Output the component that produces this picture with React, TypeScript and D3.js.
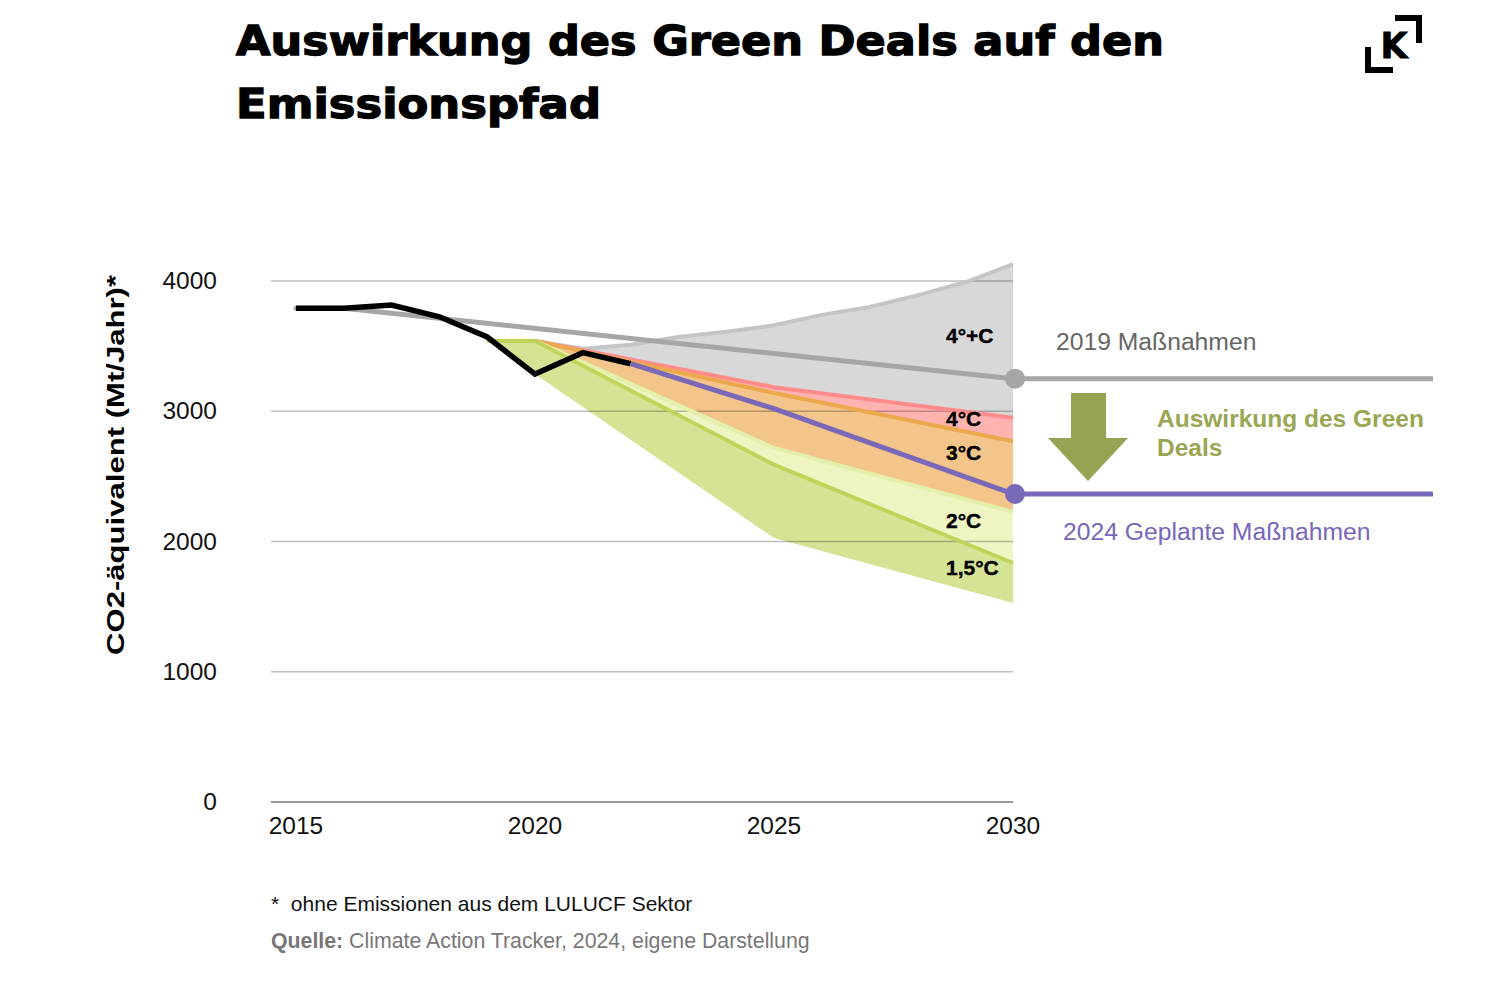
import React from "react";
import * as d3 from "d3";

const histYears = [2015, 2016, 2017, 2018, 2019, 2020, 2021, 2022];
const histValues = [3790, 3790, 3815, 3725, 3570, 3285, 3450, 3365];

const policy2019Years = [2015, 2016, 2030];
const policy2019Values = [3790, 3790, 3250];

const plannedYears = [2022, 2025, 2030];
const plannedValues = [3365, 3020, 2365];

const ceilingYears = [2020, 2021, 2022, 2023, 2024, 2025, 2026, 2027, 2028, 2029, 2030];
const ceilingValues = [3540, 3480, 3510, 3570, 3610, 3660, 3740, 3800, 3890, 3990, 4130];

const bandYears = [2020, 2025, 2030];
const deg4Values = [3540, 3185, 2950];
const deg3Values = [3540, 3140, 2770];
const deg2Values = [3540, 2718, 2227];

const green15Years = [2019, 2020, 2025, 2030];
const deg15Values = [3540, 3540, 2590, 1835];
const floorValues = [3540, 3285, 2027, 1528];

const yTicks = [0, 1000, 2000, 3000, 4000];
const xTicks = [2015, 2020, 2025, 2030];

const bandLabels = ["4°+C", "4°C", "3°C", "2°C", "1,5°C"];
const bandLabelValues = [3524, 2887, 2626, 2104, 1743];

const x = d3.scaleLinear().domain([2015, 2030]).range([296, 1013]);
const y = d3.scaleLinear().domain([0, 4000]).range([802, 281]);

const pts = (ys: number[], vs: number[]) => ys.map((yr, i) => [yr, vs[i]] as [number, number]);
const line = d3.line<[number, number]>().x((d) => x(d[0])).y((d) => y(d[1]));

function band(topY: number[], topV: number[], botY: number[], botV: number[]) {
  const top = pts(topY, topV).map((d) => [x(d[0]), y(d[1])]);
  const bot = pts(botY, botV).map((d) => [x(d[0]), y(d[1])]).reverse();
  const all = top.concat(bot);
  return "M" + all.map((p) => p[0] + "," + p[1]).join("L") + "Z";
}

const sans = "'Liberation Sans', Arial, sans-serif";

export default function App() {
  const lastPolicy = policy2019Values[policy2019Values.length - 1];
  const lastPlanned = plannedValues[plannedValues.length - 1];
  return (
    <svg width={1500} height={1000} style={{ position: "absolute", left: 0, top: 0, background: "#fff" }}>
      {/* Title */}
      <text x={236} y={55} fontFamily="'DejaVu Sans', sans-serif" fontWeight={900} fontSize={41} stroke="#000" strokeWidth={1.3} textLength={928} lengthAdjust="spacingAndGlyphs">Auswirkung des Green Deals auf den</text>
      <text x={236} y={118} fontFamily="'DejaVu Sans', sans-serif" fontWeight={900} fontSize={41} stroke="#000" strokeWidth={1.3} textLength={365} lengthAdjust="spacingAndGlyphs">Emissionspfad</text>

      {/* Logo */}
      <g fill="#000">
        <rect x={1395} y={15} width={27} height={6} />
        <rect x={1416} y={15} width={6} height={28} />
        <rect x={1365} y={47} width={6} height={26} />
        <rect x={1365} y={67} width={28} height={6} />
        <text x={1394} y={58} textAnchor="middle" fontFamily="'DejaVu Sans', sans-serif" fontWeight={900} fontSize={35} stroke="#000" strokeWidth={0.8}>K</text>
      </g>

      {/* Bands */}
      <path d={band(ceilingYears, ceilingValues, bandYears, deg4Values)} fill="#d9d8d9" />
      <path d={band(bandYears, deg4Values, bandYears, deg3Values)} fill="#ffb3b0" />
      <path d={band(bandYears, deg3Values, bandYears, deg2Values)} fill="#f3c58a" />
      <path d={band(bandYears, deg2Values, green15Years, deg15Values)} fill="#eef5c3" />
      <path d={band(green15Years, deg15Values, green15Years, floorValues)} fill="#d7e394" />

      {/* Grid */}
      {yTicks.map((t) => (
        <line key={t} x1={271} x2={1013} y1={y(t)} y2={y(t)} stroke={t === 0 ? "#777" : "rgba(0,0,0,0.25)"} strokeWidth={1.5} />
      ))}

      {/* Band boundary lines */}
      <path d={line(pts(ceilingYears, ceilingValues))!} fill="none" stroke="#c6c5c6" strokeWidth={4} />
      <path d={line(pts(bandYears, deg4Values))!} fill="none" stroke="#ff8c8a" strokeWidth={4} />
      <path d={line(pts(bandYears, deg3Values))!} fill="none" stroke="#eca84c" strokeWidth={4} />
      <path d={line(pts(bandYears, deg2Values))!} fill="none" stroke="#e3efaa" strokeWidth={4} />
      <path d={line(pts(green15Years, deg15Values))!} fill="none" stroke="#c0d45a" strokeWidth={4} />

      {/* 2019 policy */}
      <path d={line(pts(policy2019Years, policy2019Values))!} fill="none" stroke="#a6a6a6" strokeWidth={5} strokeLinecap="round" />
      <line x1={x(2030)} x2={1433} y1={y(lastPolicy)} y2={y(lastPolicy)} stroke="#a6a6a6" strokeWidth={5} />

      {/* historical */}
      <path d={line(pts(histYears, histValues))!} fill="none" stroke="#000" strokeWidth={5.5} strokeLinejoin="miter" />

      {/* planned */}
      <path d={line(pts(plannedYears, plannedValues))!} fill="none" stroke="#7a68b9" strokeWidth={5} />
      <line x1={x(2030)} x2={1433} y1={y(lastPlanned)} y2={y(lastPlanned)} stroke="#7a68b9" strokeWidth={5} />

      <circle cx={x(2030) + 2} cy={y(lastPolicy)} r={10} fill="#a6a6a6" />
      <circle cx={x(2030) + 2} cy={y(lastPlanned)} r={10} fill="#7a68b9" />

      {/* Band labels */}
      {bandLabels.map((l, i) => (
        <text key={l} x={946} y={y(bandLabelValues[i])} fontFamily={sans} fontWeight={700} fontSize={21} stroke="#000" strokeWidth={0.4} fill="#000">{l}</text>
      ))}

      {/* Axes labels */}
      {yTicks.map((t) => (
        <text key={t} x={217} y={y(t) + 8} textAnchor="end" fontFamily={sans} fontSize={24.5} fill="#111">{t}</text>
      ))}
      {xTicks.map((t) => (
        <text key={t} x={x(t)} y={834} textAnchor="middle" fontFamily={sans} fontSize={24.5} fill="#111">{t}</text>
      ))}
      <text transform="translate(124,465) rotate(-90)" textAnchor="middle" fontFamily={sans} fontWeight={700} fontSize={24} textLength={380} lengthAdjust="spacingAndGlyphs" fill="#000">CO2-äquivalent (Mt/Jahr)*</text>

      {/* Right annotations */}
      <text x={1056} y={350} fontFamily={sans} fontSize={24.7} fill="#666">2019 Maßnahmen</text>
      <text x={1063} y={540} fontFamily={sans} fontSize={24.7} fill="#7766bb">2024 Geplante Maßnahmen</text>
      <text x={1157} y={427} fontFamily={sans} fontWeight={700} fontSize={24.5} fill="#9aa653">Auswirkung des Green</text>
      <text x={1157} y={456} fontFamily={sans} fontWeight={700} fontSize={24.5} fill="#9aa653">Deals</text>
      <path d="M1071,393 L1106,393 L1106,438 L1128,438 L1088,481 L1048,438 L1071,438 Z" fill="#97a352" />

      {/* Footnotes */}
      <text x={271} y={911} fontFamily={sans} fontSize={21} fill="#111" style={{ whiteSpace: "pre" }}>{"*  ohne Emissionen aus dem LULUCF Sektor"}</text>
      <text x={271} y={948} fontFamily={sans} fontSize={21.3} fill="#777">
        <tspan fontWeight={700}>Quelle:</tspan> Climate Action Tracker, 2024, eigene Darstellung
      </text>
    </svg>
  );
}
